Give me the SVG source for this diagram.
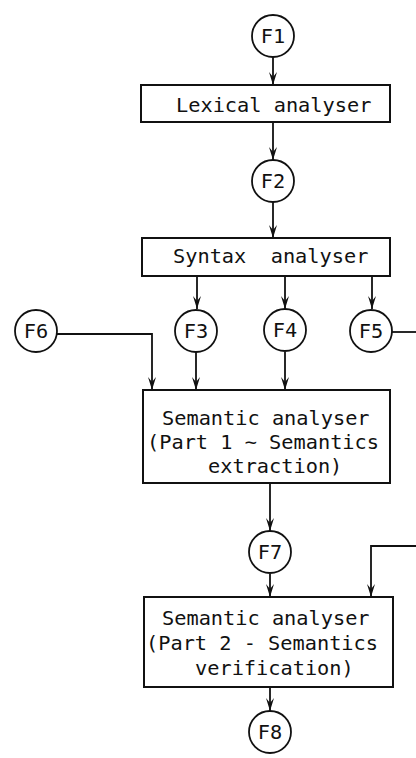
<svg xmlns="http://www.w3.org/2000/svg" width="416" height="758" viewBox="0 0 416 758">
  <style>
    .bg { fill: #ffffff; }
    .box { fill: #ffffff; stroke: #111111; stroke-width: 2; }
    .flow { fill: #ffffff; stroke: #111111; stroke-width: 1.8; }
    .lbl { font-family: "DejaVu Sans Mono", "Liberation Mono", monospace; font-size: 20.3px; fill: #111111; }
    .mid { text-anchor: middle; }
    .wire { fill: none; stroke: #111111; stroke-width: 1.8; }
  </style>
  <defs>
    <marker id="arrow" markerUnits="userSpaceOnUse" markerWidth="8" markerHeight="13" refX="4" refY="13" orient="0" viewBox="0 0 8 13">
      <path d="M0,0 L4,5 L8,0 L4,13 Z" fill="#111111"/>
    </marker>
  </defs>

  <rect class="bg" x="0" y="0" width="416" height="758"/>

  <!-- connectors -->
  <g id="connectors">
    <line class="wire" x1="273" y1="57" x2="273" y2="85" marker-end="url(#arrow)"/>
    <line class="wire" x1="273" y1="122" x2="273" y2="160" marker-end="url(#arrow)"/>
    <line class="wire" x1="273" y1="202" x2="273" y2="238" marker-end="url(#arrow)"/>
    <line class="wire" x1="197" y1="276" x2="197" y2="309" marker-end="url(#arrow)"/>
    <line class="wire" x1="285" y1="276" x2="285" y2="309" marker-end="url(#arrow)"/>
    <line class="wire" x1="372" y1="276" x2="372" y2="309" marker-end="url(#arrow)"/>
    <polyline class="wire" points="57,334 152,334 152,390" marker-end="url(#arrow)"/>
    <line class="wire" x1="196" y1="352" x2="196" y2="390" marker-end="url(#arrow)"/>
    <line class="wire" x1="285" y1="352" x2="285" y2="390" marker-end="url(#arrow)"/>
    <line class="wire" x1="392" y1="332" x2="416" y2="332"/>
    <line class="wire" x1="270" y1="483" x2="270" y2="531" marker-end="url(#arrow)"/>
    <line class="wire" x1="270" y1="574" x2="270" y2="597" marker-end="url(#arrow)"/>
    <polyline class="wire" points="416,546 371,546 371,597" marker-end="url(#arrow)"/>
    <line class="wire" x1="270" y1="687" x2="270" y2="711" marker-end="url(#arrow)"/>
  </g>

  <!-- file nodes -->
  <g id="F1"><circle class="flow" cx="273" cy="36" r="21"/><text class="lbl mid" x="273" y="43">F1</text></g>
  <g id="F2"><circle class="flow" cx="273" cy="181" r="21"/><text class="lbl mid" x="273" y="188">F2</text></g>
  <g id="F3"><circle class="flow" cx="196" cy="331" r="21"/><text class="lbl mid" x="196" y="338">F3</text></g>
  <g id="F4"><circle class="flow" cx="285" cy="330" r="21"/><text class="lbl mid" x="285" y="337">F4</text></g>
  <g id="F5"><circle class="flow" cx="371" cy="331" r="21"/><text class="lbl mid" x="371" y="338">F5</text></g>
  <g id="F6"><circle class="flow" cx="36" cy="331" r="21"/><text class="lbl mid" x="36" y="338">F6</text></g>
  <g id="F7"><circle class="flow" cx="270" cy="552" r="21"/><text class="lbl mid" x="270" y="559">F7</text></g>
  <g id="F8"><circle class="flow" cx="270" cy="732" r="21"/><text class="lbl mid" x="270" y="739">F8</text></g>

  <!-- process nodes -->
  <g id="lexical">
    <rect class="box" x="141" y="85" width="249" height="37"/>
    <text class="lbl" x="176" y="112">Lexical analyser</text>
  </g>
  <g id="syntax">
    <rect class="box" x="142" y="238" width="248" height="38"/>
    <text class="lbl" x="173" y="263" xml:space="preserve">Syntax  analyser</text>
  </g>
  <g id="semantic1">
    <rect class="box" x="143" y="390" width="247" height="93"/>
    <text class="lbl" x="162" y="425">Semantic analyser</text>
    <text class="lbl" x="147" y="449">(Part 1 ~ Semantics</text>
    <text class="lbl" x="208" y="473">extraction)</text>
  </g>
  <g id="semantic2">
    <rect class="box" x="144" y="597" width="249" height="90"/>
    <text class="lbl" x="162" y="625">Semantic analyser</text>
    <text class="lbl" x="146" y="650">(Part 2 - Semantics</text>
    <text class="lbl" x="195" y="675">verification)</text>
  </g>
</svg>
